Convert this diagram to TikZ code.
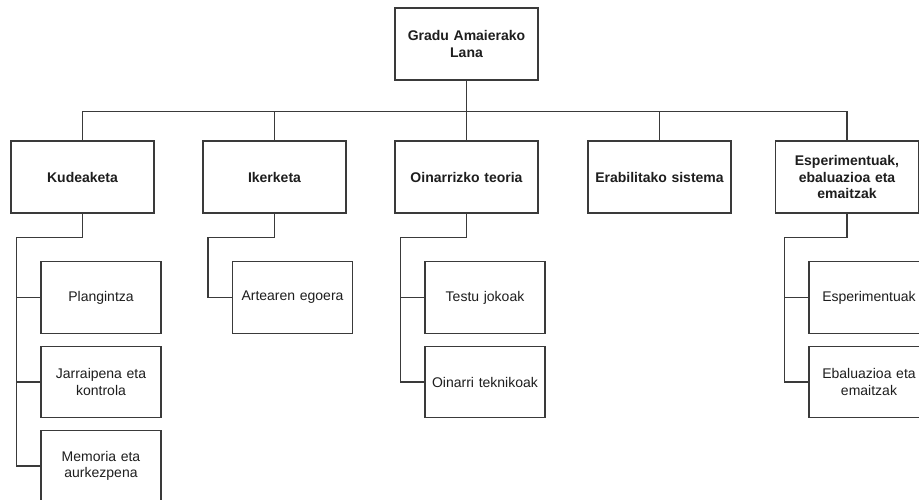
\documentclass[tikz,border=0pt]{standalone}
\usepackage{fontspec}
\setmainfont{Liberation Sans}
\definecolor{edge}{HTML}{3A3A3A}
\definecolor{ink}{HTML}{1E1E1E}
\begin{document}
\begin{tikzpicture}[x=1pt,y=-1pt,
  box/.style={draw=edge,line width=1.2pt,fill=white,text=ink,align=center,
    inner sep=2pt,font=\fontsize{14}{16.5}\selectfont},
  headbox/.style={box,minimum width=143pt,minimum height=72pt,text width=130pt,
    font=\fontsize{14}{16.5}\selectfont\bfseries},
  leafbox/.style={box,minimum width=120pt,minimum height=71.5pt,text width=110pt},
  link/.style={draw=edge,line width=1.2pt}]
\useasboundingbox (0,0) rectangle (919,500);
\clip (0,0) rectangle (919,500);

% root
\node[headbox] (root) at (466.5,44) {Gradu Amaierako\\Lana};

% chapters
\node[headbox] (kud) at (82.5,177) {Kudeaketa};
\node[headbox] (ike) at (274.5,177) {Ikerketa};
\node[headbox] (oin) at (466.5,177) {Oinarrizko teoria};
\node[headbox] (era) at (659.5,177) {Erabilitako sistema};
\node[headbox] (esp) at (847,177) {Esperimentuak,\\ebaluazioa eta\\emaitzak};

% sections
\node[leafbox] (plan) at (101,297.5) {Plangintza};
\node[leafbox] (jarr) at (101,382) {Jarraipena eta\\kontrola};
\node[leafbox] (memo) at (101,466) {Memoria eta\\aurkezpena};
\node[leafbox] (arte) at (292.5,297.5) {Artearen egoera};
\node[leafbox] (test) at (485,297.5) {Testu jokoak};
\node[leafbox] (tekn) at (485,382) {Oinarri teknikoak};
\node[leafbox] (expe) at (869,297.5) {Esperimentuak};
\node[leafbox] (ebal) at (869,382) {Ebaluazioa eta\\emaitzak};

% root to chapters
\foreach \c in {kud,ike,oin,era,esp}
  \draw[link] (root.south) -- ++(0,31) -| (\c.north);

% chapters to sections
\draw[link] (kud.south) -- ++(0,24) -| ([xshift=-24pt]memo.west) -- (memo.west);
\draw[link] (plan.west) -- ++(-24,0);
\draw[link] (jarr.west) -- ++(-24,0);
\draw[link] (ike.south) -- ++(0,24) -| ([xshift=-24pt]arte.west) -- (arte.west);
\draw[link] (oin.south) -- ++(0,24) -| ([xshift=-24pt]tekn.west) -- (tekn.west);
\draw[link] (test.west) -- ++(-24,0);
\draw[link] (esp.south) -- ++(0,24) -| ([xshift=-24pt]ebal.west) -- (ebal.west);
\draw[link] (expe.west) -- ++(-24,0);
\end{tikzpicture}
\end{document}
